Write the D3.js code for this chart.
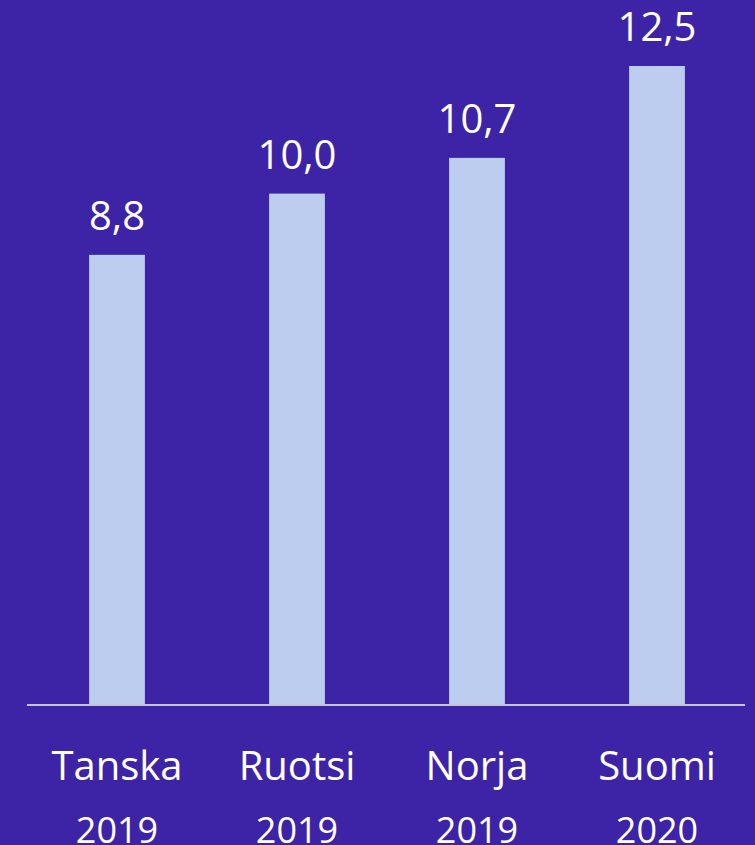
<!DOCTYPE html>
<html>
<head>
<meta charset="utf-8">
<script src="https://cdn.jsdelivr.net/npm/d3@7"></script>
<style>
  html, body { margin: 0; padding: 0; background: #3d23a6; }
  svg { display: block; }
  .valText { fill: #ffffff; font-family: "Open Sans", sans-serif; font-size: 40px; text-anchor: middle; }
  .catText { fill: #ffffff; font-family: "Open Sans", sans-serif; font-size: 40px; text-anchor: middle; }
  .yearText { fill: #ffffff; font-family: "Open Sans", sans-serif; font-size: 36px; text-anchor: middle; }
</style>
</head>
<body>
<div id="chart"></div>
<script>
var countries = ["Tanska", "Ruotsi", "Norja", "Suomi"];
var years = ["2019", "2019", "2019", "2020"];
var values = [8.8, 10.0, 10.7, 12.5];

var svgWidth = 755;
var svgHeight = 845;

var margin = { top: 66, right: 8, bottom: 141, left: 27 };
var width = svgWidth - margin.left - margin.right;
var height = svgHeight - margin.top - margin.bottom;

var data = countries.map(function(c, i) {
  return { country: c, year: years[i], value: values[i] };
});

var svg = d3.select("#chart")
  .append("svg")
  .attr("width", svgWidth)
  .attr("height", svgHeight);

svg.append("rect")
  .attr("width", svgWidth)
  .attr("height", svgHeight)
  .attr("fill", "#3d23a6");

var chartGroup = svg.append("g")
  .attr("transform", `translate(${margin.left}, ${margin.top})`);

// scales
var xScale = d3.scaleBand()
  .domain(countries)
  .range([0, 720])
  .paddingInner(0.69)
  .paddingOuter(0.345);

var yScale = d3.scaleLinear()
  .domain([0, 12.5])
  .range([height, 0]);

// bars
chartGroup.selectAll("rect.bar")
  .data(data)
  .enter()
  .append("rect")
  .attr("class", "bar")
  .attr("x", d => xScale(d.country))
  .attr("y", d => yScale(d.value))
  .attr("width", xScale.bandwidth())
  .attr("height", d => height - yScale(d.value))
  .attr("fill", "#bccdf0");

// baseline
chartGroup.append("line")
  .attr("x1", 0)
  .attr("x2", 718)
  .attr("y1", height + 1)
  .attr("y2", height + 1)
  .attr("stroke", "#c4c4d6")
  .attr("stroke-width", 2);

// value labels
chartGroup.selectAll("text.valText")
  .data(data)
  .enter()
  .append("text")
  .attr("class", "valText")
  .attr("x", d => xScale(d.country) + xScale.bandwidth() / 2)
  .attr("y", d => yScale(d.value) - 25)
  .text(d => d3.format(".1f")(d.value).replace(".", ","));

// category labels
chartGroup.selectAll("text.catText")
  .data(data)
  .enter()
  .append("text")
  .attr("class", "catText")
  .attr("x", d => xScale(d.country) + xScale.bandwidth() / 2)
  .attr("y", height + 76)
  .text(d => d.country);

chartGroup.selectAll("text.yearText")
  .data(data)
  .enter()
  .append("text")
  .attr("class", "yearText")
  .attr("x", d => xScale(d.country) + xScale.bandwidth() / 2)
  .attr("y", height + 139)
  .text(d => d.year);
</script>
</body>
</html>
